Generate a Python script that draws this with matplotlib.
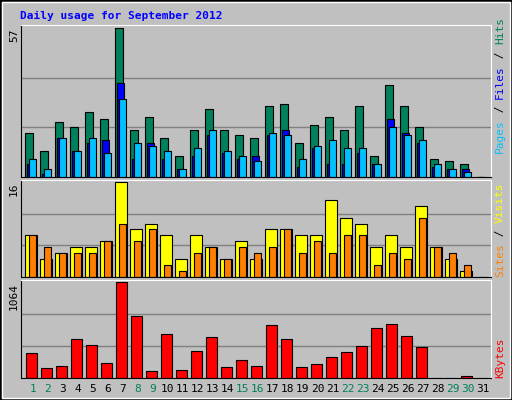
import matplotlib
matplotlib.use("Agg")
import matplotlib.pyplot as plt
from matplotlib.patches import Rectangle
import numpy as np

# 日ごとの値
days = list(range(1, 32))
hits = [17, 10, 21, 19, 25, 22, 57, 18, 23, 15, 8, 18, 26, 18, 16, 15, 27, 28, 13, 20,
        23, 18, 27, 8, 35, 27, 19, 7, 6, 5, 0]
files = [5, 1, 15, 10, 13, 14, 36, 7, 13, 7, 3, 8, 16, 9, 7, 8, 16, 18, 4, 11,
         5, 5, 9, 5, 22, 17, 13, 4, 3, 3, 0]
pages = [7, 3, 15, 10, 15, 9, 30, 13, 12, 10, 3, 11, 18, 10, 8, 6, 17, 16, 7, 12,
         14, 11, 11, 5, 19, 16, 14, 5, 3, 2, 0]
visits = [7, 3, 4, 5, 5, 6, 16, 8, 9, 7, 3, 7, 5, 3, 6, 3, 8, 8, 7, 7,
          13, 10, 9, 5, 7, 5, 12, 5, 3, 1, 0]
sites = [7, 5, 4, 4, 4, 6, 9, 6, 8, 2, 1, 4, 5, 3, 5, 4, 5, 8, 4, 6,
         4, 7, 7, 2, 4, 3, 10, 5, 4, 2, 0]
kbytes = [272, 109, 132, 435, 365, 167, 1064, 691, 74, 482, 85, 295, 458, 120, 202, 132,
          586, 435, 120, 155, 237, 283, 353, 551, 598, 470, 342, 5, 5, 27, 0]
weekend = [1, 2, 8, 9, 15, 16, 22, 23, 29, 30]

W, H = 512, 400
fig = plt.figure(figsize=(W / 100, H / 100), dpi=100)
fig.patch.set_facecolor("#C0C0C0")
mono = "DejaVu Sans Mono"

# 外枠
fig.patches.append(Rectangle((0, 0), 1, 1, transform=fig.transFigure, fill=False,
                             edgecolor="black", lw=2))
fig.patches.append(Rectangle((2 / W, 2 / H), 1 - 4 / W, 1 - 4 / H, transform=fig.transFigure,
                             fill=False, edgecolor="white", lw=1))

fig.text(20 / W, 1 - 16 / H, "Daily usage for September 2012", color="#0000FF",
         family=mono, fontsize=8, weight="bold", va="center")

x0, x1 = 21, 491
xl = ((21 - 25.3) / 15, (491 - 25.3) / 15)


def panel(top, bottom, vmax):
    ax = fig.add_axes([x0 / W, 1 - bottom / H, (x1 - x0) / W, (bottom - top) / H])
    ax.set_facecolor("#C0C0C0")
    ax.set_xlim(*xl)
    ax.set_ylim(0, vmax * 1.02)
    for g in (vmax / 3, 2 * vmax / 3):
        ax.axhline(g, color="#808080", lw=1, zorder=0)
    ax.set_xticks([])
    ax.set_yticks([])
    for s in ("top", "right"):
        ax.spines[s].set_color("white")
    for s in ("left", "bottom"):
        ax.spines[s].set_color("black")
    fig.text(14 / W, 1 - (top + 3) / H, str(vmax), rotation=90, family=mono, fontsize=8,
             va="top", ha="center")
    return ax


idx = np.arange(31)
ax1 = panel(25, 177, 57)
ax1.bar(idx, hits, width=0.49, align="edge", color="#00805C", edgecolor="black", lw=0.8)
ax1.bar(idx + 0.11, files, width=0.45, align="edge", color="#0000FF", edgecolor="black", lw=0.8)
ax1.bar(idx + 0.27, pages, width=0.47, align="edge", color="#00C0FF", edgecolor="black", lw=0.8)

ax2 = panel(180, 277, 16)
ax2.bar(idx, visits, width=0.75, align="edge", color="#FFFF00", edgecolor="black", lw=0.8)
ax2.bar(idx + 0.27, sites, width=0.47, align="edge", color="#FF8000", edgecolor="black", lw=0.8)

ax3 = panel(280, 378, 1064)
ax3.bar(idx + 0.07, kbytes, width=0.69, align="edge", color="#FF0000", edgecolor="black", lw=0.8)

for i, d in enumerate(days):
    xp = 25.3 + 15 * i + 7.5
    fig.text(xp / W, 1 - 389 / H, str(d), family=mono, fontsize=8, ha="center", va="center",
             color="#00805C" if d in weekend else "black")


def side_label(parts, y_bottom):
    # 等幅フォントで1文字ずつ上方向に積む
    y = y_bottom
    for txt, col in parts:
        if txt.strip():
            fig.text(500 / W, 1 - y / H, txt, rotation=90, family=mono, fontsize=8,
                     color=col, ha="center", va="bottom")
        y -= 6.8 * len(txt)


side_label([("Pages", "#00C0FF"), (" / ", "black"), ("Files", "#0000FF"),
            (" / ", "black"), ("Hits", "#00805C")], 153)
side_label([("Sites", "#FF8000"), (" / ", "black"), ("Visits", "#FFFF00")], 277)
side_label([("KBytes", "#FF0000")], 378)

fig.savefig("out.png", dpi=100, facecolor=fig.get_facecolor())
